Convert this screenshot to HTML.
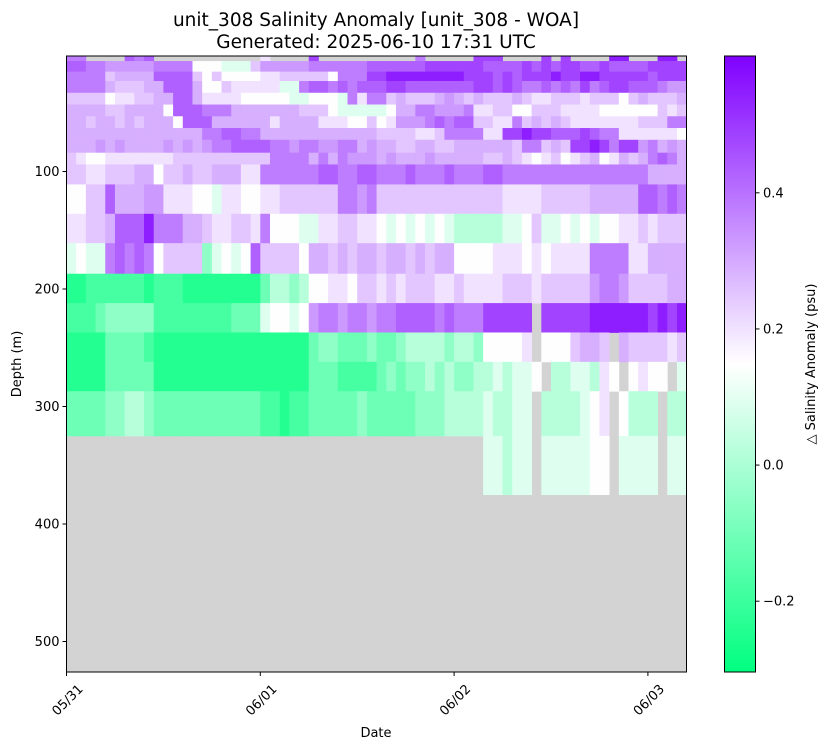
<!DOCTYPE html>
<html><head><meta charset="utf-8"><style>
body{margin:0;background:#fff;}
svg{display:block;font-family:"DejaVu Sans","Liberation Sans",sans-serif;}
</style></head><body>
<svg id="chart" width="827" height="749" viewBox="0 0 827 749" xmlns="http://www.w3.org/2000/svg">
<defs>
<linearGradient id="cmap" x1="0" y1="1" x2="0" y2="0">
<stop offset="0" stop-color="#00ff80"/><stop offset="0.5" stop-color="#ffffff"/><stop offset="1" stop-color="#8000ff"/>
</linearGradient>
</defs>
<text x="376" y="26" font-size="18.5" text-anchor="middle">unit_308 Salinity Anomaly [unit_308 - WOA]</text>
<text x="376" y="48" font-size="18.5" text-anchor="middle">Generated: 2025-06-10 17:31 UTC</text>
<rect x="66.5" y="56" width="620" height="616" fill="#d3d3d3"/>
<g id="cells"></g>
<rect x="66.5" y="56" width="620" height="616" fill="none" stroke="#000" stroke-width="1"/>
<g id="yaxis"></g>
<g id="xaxis"></g>
<text transform="translate(21,364) rotate(-90)" font-size="13" text-anchor="middle">Depth (m)</text>
<text x="376" y="737" font-size="13" text-anchor="middle">Date</text>
<rect x="724.5" y="56" width="31" height="616" fill="url(#cmap)" stroke="#000" stroke-width="1"/>
<g id="cbaxis"></g>
<text transform="translate(815,364) rotate(-90)" font-size="13" text-anchor="middle">△ Salinity Anomaly (psu)</text>
</svg>
<script>
// ---- data ----
const depthEdges = [2,6,15,23,33,43,53,63,73,84,94,111,136,161,187,212,237,262,287,325,375];
const colWidthDays = 0.05;
const levelCodes = ['G','g','f','e','d','m','w','a','b','c','p','q','r','s','t'];
const levelValues = [-0.24,-0.18,-0.11,-0.05,0.02,0.09,0.15,0.2,0.25,0.29,0.33,0.38,0.43,0.48,0.55];
const rows = [
"qq....rqr...........a....s..........q.....sss....s.s....tt...tt.",
"rrqqpppppqqqqwwwmmmbpppppqqqqqqrrrrrrssssssrrrrsrsrssrrsrrrrssss",
"qqqqbccccrrrrbwbwwwwaabbbbbwqqqssttttttttsssrsrssstssttsssssrss",
"qqqqcbbbccrrrcwwbaaaaammqrrqrqrrrssrrrrrrrssrsrqqrqrqsqrssrrrqpp",
"bbbbwaabbccrrcaaaawwwwwmmwwwmqaqqbcbbbcpcbcbbbcbaabbbabbbwbcbbbc",
"ccccbbccccwrrrqqqcccccccbbbwmmmmmwccqqpppqaabbwwbbbaaaawwwwwwbab",
"ccbccbcbcccwrrrccccccaccccaaawwbwapppqrqrrbbaaqbcbcbaaaaaaabbbq",
"ccccccccccccccqqrrqqccccccccccccbbbbaabqqqqaasstssrrrsrqqaaaaaaw",
"cccpcpccccpcpcpqqrrrrqqpqqppqqcpccbbccbbccccccbqqbcbsstsqsspqcpc",
"bawwaaaaaaabbbbbbbbbbqqqqcqcqpppcpcccpcccccbbcbawabwabcwacbcqrqc",
"bbaabbbccwbbcbbcccaaqqqqqqrrqqrrqqqrqqqrqqqrrqqqqqqqqqqqqqqqcccc",
"wwbbrcccppaaawwmaawwaabbbbbbqqpqbbbbbbbbbbbbbaaaabbbbbcccccrrqrq",
"aabbcrrrtqqqccbaabbaqwwwmmaabbaawmwmwmwmdddddmmwbmmwmwmwwaababbb",
"mwmmqrqrqwbbbbemwmwrbbbbwccbcbccbccbcbccwwwwaaawawaaaaqqqqaacccc",
"GGggggggGgggGGGGGGGGfddedwwaawbbababbbaabaaaabbbabbbbbpqqpbbbbcc",
"gggfeeeeeggggggggfffmwwmwpqqpqqpqqrrrrqrqqqsssss.sssssttttttstst",
"GGGGffffgGGGGGGGGGGGGGGGGfeefffeffeddddeddewwwwa.wwwbccb.cbbbbab",
"GGGGfffffGGGGGGGGGGGGGGGGfffggggfefeededeeddmdmmw.ddmmdaw.waww.ma",
"ffffeeddefffffffffffggGggfffffefffffeeeddddmddmm.ddddmwa.wddd.dd",
"...........................................mmdmm.mmmmmww.mmmm.mm"
];
const yTicks = [100,200,300,400,500];
const xTickDays = [0,1,2,3];
const xTickLabels = ['05/31','06/01','06/02','06/03'];
const cbTicks = [-0.2,0.0,0.2,0.4];
const cbTickLabels = ['\u22120.2','0.0','0.2','0.4'];
const vmin = -0.304, vmax = 0.601;

// ---- scales ----
const NS='http://www.w3.org/2000/svg';
const X0=66.5, X1=686.5, Y0=56, Y1=672;
const dayPx = 193.8;
const NCOL = 64;
function xs(d){return X0 + d*dayPx;}
function ys(m){return 54 + m*1.175;}
function cbY(v){return Y1 - (v-vmin)/(vmax-vmin)*(Y1-Y0);}
function color(v){
  let t=(v-vmin)/(vmax-vmin); t=Math.max(0,Math.min(1,t));
  let r,g,b;
  if(t<0.5){const u=t/0.5; r=255*u; g=255; b=128+127*u;}
  else{const u=(t-0.5)/0.5; r=255-127*u; g=255-255*u; b=255;}
  return 'rgb('+Math.round(r)+','+Math.round(g)+','+Math.round(b)+')';
}
function mk(tag,attrs,parent){const e=document.createElementNS(NS,tag);for(const k in attrs)e.setAttribute(k,attrs[k]);parent.appendChild(e);return e;}

// ---- cells ----
const cells=document.getElementById('cells');
rows.forEach((raw,ri)=>{
  let row=raw.replace(/\s/g,'');
  while(row.length<NCOL) row+=row[row.length-1];
  const yA=Math.max(ys(depthEdges[ri]),Y0), yB=ys(depthEdges[ri+1]);
  for(let ci=0;ci<NCOL;ci++){
    const idx=levelCodes.indexOf(row[ci]);
    if(idx<0) continue;
    const xa=xs(ci*colWidthDays), xb=Math.min(xs((ci+1)*colWidthDays),X1);
    const r=mk('rect',{x:xa.toFixed(2),y:yA.toFixed(2),width:(xb-xa+0.4).toFixed(2),height:(yB-yA+0.4).toFixed(2),fill:color(levelValues[idx])},cells);
    
    
  }
});

// ---- axes ----
const ya=document.getElementById('yaxis');
yTicks.forEach(v=>{
  const y=ys(v);
  const l=mk('line',{x1:X0-4,x2:X0,y1:y,y2:y,stroke:'#000','stroke-width':1},ya);
  
  
  const t=mk('text',{x:X0-7,y:y+4.5,'font-size':13,'text-anchor':'end'},ya);
  
  
  t.textContent=v;
});
const xa=document.getElementById('xaxis');
xTickDays.forEach((d,i)=>{
  const x=xs(d);
  const l=mk('line',{x1:x,x2:x,y1:Y1,y2:Y1+4,stroke:'#000','stroke-width':1},xa);
  
  
  const t=mk('text',{transform:'translate('+(x+4)+','+(Y1+31)+') rotate(-45)','font-size':13,'text-anchor':'middle'},xa);
  
  
  t.textContent=xTickLabels[i];
});
const cb=document.getElementById('cbaxis');
cbTicks.forEach((v,i)=>{
  const y=cbY(v);
  const l=mk('line',{x1:755.5,x2:759.5,y1:y,y2:y,stroke:'#000','stroke-width':1},cb);
  
  
  const t=mk('text',{x:763,y:y+4.5,'font-size':13},cb);
  
  
  t.textContent=cbTickLabels[i];
});
</script>
</body></html>
